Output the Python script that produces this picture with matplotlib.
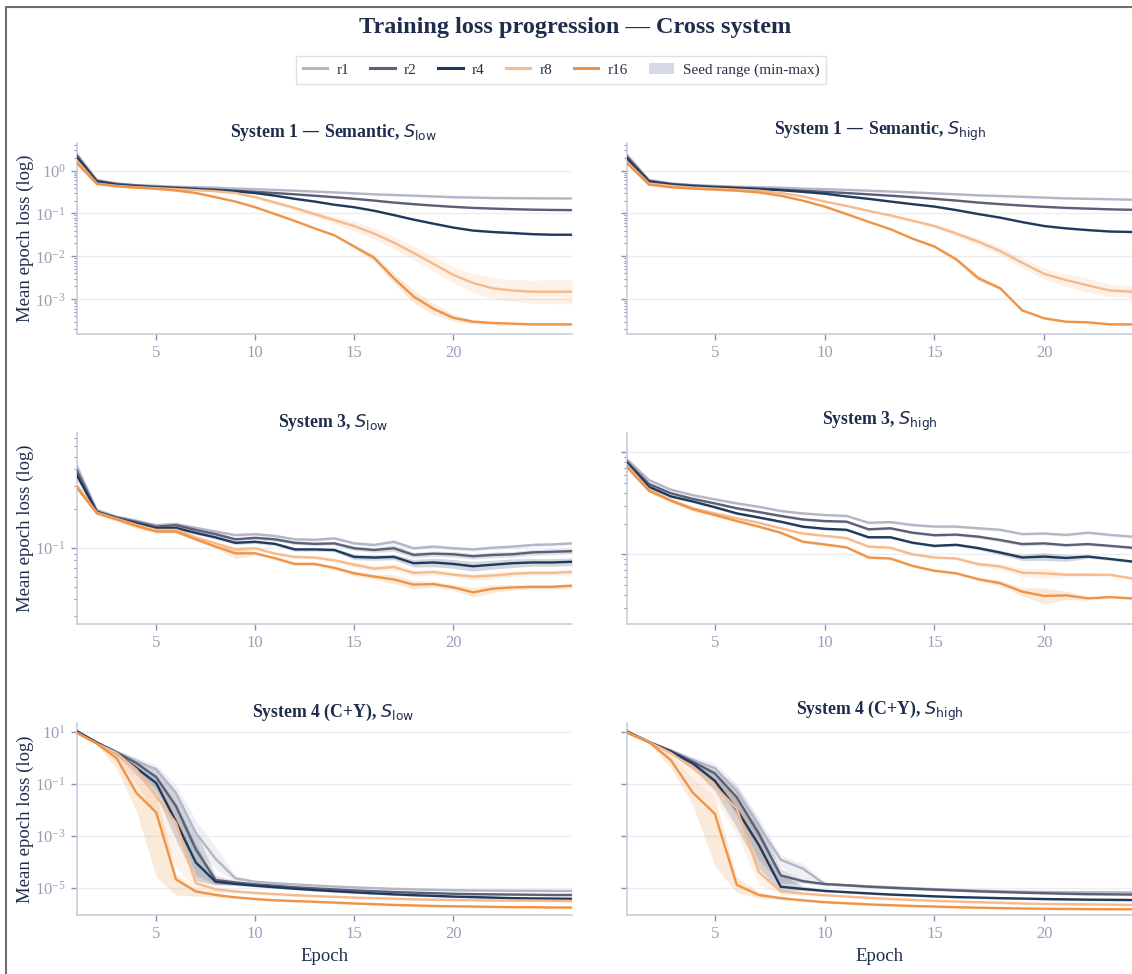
import numpy as np
import matplotlib
matplotlib.use("Agg")
import matplotlib.pyplot as plt
from matplotlib.lines import Line2D
from matplotlib.patches import Patch, Rectangle
from matplotlib.ticker import LogLocator, NullFormatter, NullLocator, FixedLocator, LogFormatterSciNotation

plt.rcParams['font.family'] = ['Liberation Serif', 'DejaVu Serif']
plt.rcParams['mathtext.fontset'] = 'dejavusans'

epochs_low = list(range(1, 27))
epochs_high = list(range(1, 25))
ranks = ["r1", "r2", "r4", "r8", "r16"]
colors = ["#b3b6c7", "#5b6079", "#1f3a5c", "#f6ba8c", "#ef9447"]

# ---- System 1, S_low (mean loss per epoch, band = x/÷ spread)
s1_low_r1 = [2.4, 0.60, 0.50, 0.46, 0.44, 0.42, 0.41, 0.40, 0.38, 0.37, 0.355, 0.34, 0.325, 0.31, 0.295, 0.28, 0.27, 0.26, 0.25, 0.24, 0.235, 0.23, 0.228, 0.226, 0.225, 0.224]
s1_low_r2 = [2.2, 0.58, 0.49, 0.45, 0.42, 0.40, 0.38, 0.36, 0.34, 0.32, 0.30, 0.28, 0.26, 0.24, 0.22, 0.20, 0.18, 0.165, 0.153, 0.143, 0.135, 0.13, 0.126, 0.123, 0.121, 0.12]
s1_low_r4 = [2.0, 0.55, 0.47, 0.43, 0.41, 0.39, 0.37, 0.35, 0.33, 0.30, 0.26, 0.22, 0.19, 0.16, 0.14, 0.116, 0.092, 0.072, 0.058, 0.047, 0.040, 0.037, 0.035, 0.033, 0.032, 0.032]
s1_low_r8 = [1.7, 0.50, 0.44, 0.41, 0.39, 0.37, 0.35, 0.33, 0.30, 0.24, 0.18, 0.134, 0.097, 0.07, 0.051, 0.034, 0.021, 0.012, 0.0067, 0.0037, 0.0024, 0.0018, 0.0016, 0.0015, 0.0015, 0.0015]
s1_low_r16 = [1.5, 0.49, 0.43, 0.40, 0.377, 0.344, 0.30, 0.24, 0.19, 0.14, 0.097, 0.067, 0.045, 0.031, 0.017, 0.0093, 0.0031, 0.00116, 0.0006, 0.00037, 0.0003, 0.00028, 0.00027, 0.00026, 0.00026, 0.00026]
s1_low_r1_sp = [1.15, 1.05, 1.04, 1.04, 1.04, 1.04, 1.04, 1.04, 1.04, 1.04, 1.04, 1.04, 1.04, 1.04, 1.04, 1.04, 1.04, 1.04, 1.04, 1.04, 1.04, 1.04, 1.04, 1.04, 1.04, 1.04]
s1_low_r2_sp = [1.15, 1.05, 1.04, 1.04, 1.04, 1.04, 1.04, 1.04, 1.04, 1.04, 1.04, 1.04, 1.04, 1.04, 1.04, 1.04, 1.04, 1.04, 1.04, 1.04, 1.04, 1.04, 1.04, 1.04, 1.04, 1.04]
s1_low_r4_sp = [1.12, 1.05, 1.04, 1.04, 1.04, 1.04, 1.04, 1.04, 1.04, 1.04, 1.04, 1.04, 1.04, 1.04, 1.04, 1.04, 1.05, 1.05, 1.05, 1.05, 1.05, 1.05, 1.05, 1.05, 1.05, 1.05]
s1_low_r8_sp = [1.1, 1.05, 1.04, 1.04, 1.04, 1.04, 1.04, 1.05, 1.06, 1.08, 1.1, 1.12, 1.15, 1.2, 1.3, 1.35, 1.4, 1.45, 1.5, 1.55, 1.65, 1.75, 1.8, 1.85, 1.9, 1.9]
s1_low_r16_sp = [1.1, 1.05, 1.04, 1.04, 1.04, 1.04, 1.04, 1.04, 1.04, 1.05, 1.05, 1.05, 1.05, 1.06, 1.1, 1.2, 1.3, 1.4, 1.35, 1.2, 1.12, 1.08, 1.07, 1.06, 1.06, 1.06]

# ---- System 1, S_high
s1_high_r1 = [2.3, 0.60, 0.50, 0.46, 0.44, 0.42, 0.41, 0.40, 0.38, 0.37, 0.355, 0.34, 0.325, 0.31, 0.295, 0.28, 0.265, 0.255, 0.245, 0.235, 0.225, 0.22, 0.215, 0.21]
s1_high_r2 = [2.1, 0.58, 0.49, 0.45, 0.42, 0.40, 0.38, 0.36, 0.34, 0.32, 0.30, 0.28, 0.26, 0.24, 0.22, 0.20, 0.18, 0.165, 0.153, 0.143, 0.135, 0.13, 0.125, 0.122]
s1_high_r4 = [1.9, 0.55, 0.47, 0.43, 0.41, 0.39, 0.37, 0.35, 0.32, 0.29, 0.25, 0.22, 0.19, 0.165, 0.145, 0.12, 0.097, 0.08, 0.063, 0.051, 0.045, 0.041, 0.038, 0.037]
s1_high_r8 = [1.6, 0.50, 0.44, 0.40, 0.38, 0.36, 0.34, 0.30, 0.25, 0.19, 0.15, 0.115, 0.09, 0.068, 0.051, 0.034, 0.022, 0.0133, 0.0071, 0.0039, 0.0028, 0.0021, 0.0016, 0.0015]
s1_high_r16 = [1.5, 0.47, 0.41, 0.38, 0.36, 0.34, 0.31, 0.26, 0.20, 0.145, 0.097, 0.064, 0.043, 0.026, 0.017, 0.0085, 0.0031, 0.0018, 0.00055, 0.00036, 0.0003, 0.00029, 0.00026, 0.00026]
s1_high_r1_sp = [1.15, 1.05, 1.04, 1.04, 1.04, 1.04, 1.04, 1.04, 1.04, 1.04, 1.04, 1.04, 1.04, 1.04, 1.04, 1.04, 1.04, 1.04, 1.04, 1.04, 1.04, 1.04, 1.04, 1.04]
s1_high_r2_sp = [1.15, 1.05, 1.04, 1.04, 1.04, 1.04, 1.04, 1.04, 1.04, 1.04, 1.04, 1.04, 1.04, 1.04, 1.04, 1.04, 1.04, 1.04, 1.04, 1.04, 1.04, 1.04, 1.04, 1.04]
s1_high_r4_sp = [1.12, 1.05, 1.04, 1.04, 1.04, 1.04, 1.04, 1.04, 1.04, 1.04, 1.04, 1.04, 1.04, 1.04, 1.04, 1.04, 1.04, 1.04, 1.04, 1.04, 1.04, 1.04, 1.04, 1.04]
s1_high_r8_sp = [1.1, 1.05, 1.04, 1.04, 1.04, 1.04, 1.04, 1.04, 1.04, 1.04, 1.04, 1.05, 1.08, 1.1, 1.12, 1.15, 1.2, 1.25, 1.3, 1.35, 1.4, 1.45, 1.4, 1.35]
s1_high_r16_sp = [1.1, 1.05, 1.04, 1.04, 1.04, 1.04, 1.04, 1.04, 1.04, 1.04, 1.04, 1.04, 1.04, 1.05, 1.08, 1.12, 1.15, 1.1, 1.05, 1.05, 1.05, 1.05, 1.05, 1.05]

# ---- System 3, S_low
s3_low_r1 = [0.42, 0.195, 0.173, 0.161, 0.149, 0.152, 0.142, 0.133, 0.125, 0.127, 0.123, 0.116, 0.115, 0.118, 0.108, 0.105, 0.111, 0.099, 0.102, 0.099, 0.097, 0.100, 0.102, 0.105, 0.106, 0.108]
s3_low_r2 = [0.39, 0.19, 0.171, 0.158, 0.145, 0.149, 0.137, 0.127, 0.116, 0.119, 0.116, 0.109, 0.107, 0.108, 0.099, 0.096, 0.099, 0.088, 0.090, 0.089, 0.086, 0.088, 0.089, 0.092, 0.093, 0.094]
s3_low_r4 = [0.36, 0.188, 0.168, 0.154, 0.141, 0.142, 0.13, 0.12, 0.109, 0.111, 0.107, 0.097, 0.097, 0.096, 0.085, 0.084, 0.085, 0.076, 0.077, 0.075, 0.072, 0.074, 0.076, 0.077, 0.077, 0.078]
s3_low_r8 = [0.30, 0.186, 0.167, 0.15, 0.137, 0.137, 0.12, 0.108, 0.097, 0.099, 0.09, 0.085, 0.084, 0.08, 0.074, 0.069, 0.071, 0.064, 0.065, 0.062, 0.06, 0.061, 0.063, 0.064, 0.064, 0.065]
s3_low_r16 = [0.29, 0.184, 0.165, 0.147, 0.133, 0.133, 0.116, 0.102, 0.0905, 0.0905, 0.083, 0.075, 0.075, 0.07, 0.0635, 0.06, 0.057, 0.052, 0.0525, 0.0495, 0.0454, 0.0484, 0.0495, 0.050, 0.050, 0.051]
s3_low_r1_sp = [1.08, 1.03, 1.03, 1.03, 1.03, 1.03, 1.03, 1.03, 1.03, 1.03, 1.03, 1.03, 1.03, 1.03, 1.03, 1.03, 1.04, 1.03, 1.03, 1.03, 1.03, 1.03, 1.03, 1.03, 1.03, 1.03]
s3_low_r2_sp = [1.08, 1.03, 1.03, 1.03, 1.03, 1.03, 1.03, 1.03, 1.03, 1.03, 1.03, 1.03, 1.03, 1.03, 1.04, 1.04, 1.06, 1.05, 1.05, 1.05, 1.05, 1.05, 1.05, 1.05, 1.05, 1.05]
s3_low_r4_sp = [1.08, 1.03, 1.03, 1.03, 1.03, 1.03, 1.03, 1.03, 1.03, 1.03, 1.03, 1.03, 1.03, 1.03, 1.05, 1.05, 1.05, 1.07, 1.08, 1.08, 1.09, 1.08, 1.08, 1.07, 1.07, 1.07]
s3_low_r8_sp = [1.06, 1.03, 1.03, 1.05, 1.03, 1.03, 1.03, 1.03, 1.06, 1.03, 1.03, 1.03, 1.03, 1.03, 1.05, 1.05, 1.06, 1.05, 1.05, 1.05, 1.06, 1.06, 1.05, 1.05, 1.05, 1.05]
s3_low_r16_sp = [1.06, 1.03, 1.03, 1.05, 1.03, 1.03, 1.03, 1.03, 1.1, 1.03, 1.03, 1.03, 1.03, 1.03, 1.04, 1.05, 1.08, 1.08, 1.05, 1.05, 1.09, 1.07, 1.05, 1.04, 1.04, 1.04]

# ---- System 3, S_high
s3_high_r1 = [0.85, 0.535, 0.43, 0.38, 0.346, 0.316, 0.293, 0.266, 0.252, 0.243, 0.238, 0.204, 0.207, 0.194, 0.187, 0.187, 0.18, 0.174, 0.158, 0.16, 0.155, 0.163, 0.155, 0.149]
s3_high_r2 = [0.81, 0.49, 0.397, 0.35, 0.316, 0.283, 0.26, 0.238, 0.22, 0.212, 0.209, 0.176, 0.18, 0.163, 0.154, 0.156, 0.149, 0.138, 0.126, 0.128, 0.123, 0.126, 0.121, 0.116]
s3_high_r4 = [0.79, 0.46, 0.37, 0.33, 0.29, 0.252, 0.23, 0.209, 0.187, 0.178, 0.174, 0.147, 0.147, 0.13, 0.121, 0.124, 0.115, 0.104, 0.093, 0.095, 0.092, 0.095, 0.09, 0.085]
s3_high_r8 = [0.75, 0.43, 0.34, 0.283, 0.252, 0.226, 0.204, 0.18, 0.16, 0.152, 0.144, 0.119, 0.116, 0.1, 0.093, 0.091, 0.08, 0.076, 0.066, 0.065, 0.063, 0.063, 0.063, 0.058]
s3_high_r16 = [0.72, 0.42, 0.336, 0.277, 0.243, 0.212, 0.187, 0.163, 0.133, 0.125, 0.117, 0.093, 0.091, 0.077, 0.069, 0.065, 0.057, 0.052, 0.043, 0.039, 0.0395, 0.037, 0.038, 0.037]
s3_high_r1_sp = [1.06, 1.04, 1.03, 1.03, 1.03, 1.03, 1.03, 1.03, 1.03, 1.03, 1.03, 1.03, 1.03, 1.03, 1.03, 1.03, 1.03, 1.03, 1.03, 1.03, 1.03, 1.03, 1.03, 1.03]
s3_high_r2_sp = [1.06, 1.04, 1.03, 1.03, 1.03, 1.03, 1.03, 1.03, 1.03, 1.03, 1.03, 1.03, 1.03, 1.03, 1.03, 1.03, 1.03, 1.04, 1.04, 1.04, 1.03, 1.03, 1.03, 1.03]
s3_high_r4_sp = [1.06, 1.04, 1.03, 1.03, 1.03, 1.03, 1.03, 1.03, 1.03, 1.03, 1.03, 1.03, 1.03, 1.03, 1.03, 1.03, 1.04, 1.05, 1.07, 1.09, 1.08, 1.04, 1.03, 1.03]
s3_high_r8_sp = [1.06, 1.04, 1.03, 1.04, 1.03, 1.03, 1.03, 1.03, 1.03, 1.03, 1.03, 1.03, 1.03, 1.03, 1.03, 1.03, 1.05, 1.06, 1.1, 1.12, 1.06, 1.04, 1.03, 1.03]
s3_high_r16_sp = [1.06, 1.04, 1.04, 1.05, 1.04, 1.03, 1.03, 1.03, 1.03, 1.03, 1.03, 1.03, 1.03, 1.03, 1.03, 1.03, 1.04, 1.06, 1.1, 1.2, 1.1, 1.04, 1.03, 1.03]

# ---- System 4 (C+Y), S_low (band: lower = mean/dn, upper = mean*up)
s4_low_r1 = [10.9, 3.8, 1.7, 0.71, 0.36, 0.044, 0.0013, 1.3e-4, 2.3e-5, 1.7e-5, 1.5e-5, 1.35e-5, 1.22e-5, 1.12e-5, 1.04e-5, 9.7e-6, 9.1e-6, 8.7e-6, 8.4e-6, 8.1e-6, 7.9e-6, 7.8e-6, 7.7e-6, 7.7e-6, 7.6e-6, 7.6e-6]
s4_low_r2 = [10.2, 3.8, 1.6, 0.62, 0.18, 0.0137, 3e-4, 2e-5, 1.6e-5, 1.35e-5, 1.2e-5, 1.05e-5, 9.5e-6, 8.7e-6, 8.0e-6, 7.4e-6, 6.9e-6, 6.5e-6, 6.2e-6, 5.9e-6, 5.7e-6, 5.6e-6, 5.5e-6, 5.4e-6, 5.3e-6, 5.3e-6]
s4_low_r4 = [10.0, 3.8, 1.5, 0.4, 0.106, 0.0035, 9.4e-5, 1.7e-5, 1.4e-5, 1.2e-5, 1.05e-5, 9.2e-6, 8.2e-6, 7.4e-6, 6.7e-6, 6.1e-6, 5.6e-6, 5.2e-6, 4.9e-6, 4.6e-6, 4.4e-6, 4.2e-6, 4.0e-6, 3.9e-6, 3.85e-6, 3.8e-6]
s4_low_r8 = [9.0, 3.5, 1.5, 0.35, 0.033, 0.0031, 1.5e-5, 8.7e-6, 7.2e-6, 6.3e-6, 5.7e-6, 5.2e-6, 4.8e-6, 4.5e-6, 4.2e-6, 4.0e-6, 3.8e-6, 3.6e-6, 3.5e-6, 3.4e-6, 3.3e-6, 3.25e-6, 3.2e-6, 3.2e-6, 3.15e-6, 3.1e-6]
s4_low_r16 = [9.0, 3.5, 0.96, 0.044, 0.0079, 2.1e-5, 7.2e-6, 5.3e-6, 4.3e-6, 3.7e-6, 3.3e-6, 3.1e-6, 2.9e-6, 2.7e-6, 2.5e-6, 2.35e-6, 2.2e-6, 2.1e-6, 2.0e-6, 1.95e-6, 1.9e-6, 1.85e-6, 1.8e-6, 1.8e-6, 1.75e-6, 1.75e-6]
s4_low_r1_dn = [1.1, 1.1, 1.15, 1.5, 2.0, 3.0, 5.0, 2.5, 1.3, 1.15, 1.1, 1.1, 1.1, 1.1, 1.1, 1.1, 1.1, 1.1, 1.1, 1.1, 1.1, 1.1, 1.1, 1.1, 1.1, 1.1]
s4_low_r1_up = [1.15, 1.1, 1.15, 1.4, 1.5, 2.0, 3.0, 3.0, 1.3, 1.15, 1.1, 1.1, 1.1, 1.1, 1.1, 1.1, 1.1, 1.1, 1.1, 1.1, 1.1, 1.1, 1.1, 1.1, 1.1, 1.1]
s4_low_r2_dn = [1.1, 1.1, 1.2, 2.0, 3.0, 5.0, 10.0, 1.5, 1.2, 1.1, 1.1, 1.1, 1.1, 1.1, 1.1, 1.1, 1.1, 1.1, 1.1, 1.1, 1.1, 1.1, 1.1, 1.1, 1.1, 1.1]
s4_low_r2_up = [1.1, 1.1, 1.2, 1.5, 2.0, 3.0, 5.0, 1.5, 1.2, 1.1, 1.1, 1.1, 1.1, 1.1, 1.1, 1.1, 1.1, 1.1, 1.1, 1.1, 1.1, 1.1, 1.1, 1.1, 1.1, 1.1]
s4_low_r4_dn = [1.1, 1.1, 1.2, 2.0, 3.0, 5.0, 5.0, 1.3, 1.15, 1.1, 1.1, 1.1, 1.1, 1.1, 1.1, 1.1, 1.1, 1.1, 1.1, 1.1, 1.1, 1.1, 1.1, 1.1, 1.1, 1.1]
s4_low_r4_up = [1.1, 1.1, 1.2, 1.5, 2.0, 5.0, 5.0, 1.3, 1.15, 1.1, 1.1, 1.1, 1.1, 1.1, 1.1, 1.1, 1.1, 1.1, 1.1, 1.1, 1.1, 1.1, 1.1, 1.1, 1.1, 1.1]
s4_low_r8_dn = [1.1, 1.1, 2.0, 3.0, 8.0, 50.0, 1.8, 1.3, 1.15, 1.1, 1.1, 1.1, 1.1, 1.1, 1.1, 1.1, 1.1, 1.1, 1.1, 1.1, 1.1, 1.1, 1.1, 1.1, 1.1, 1.1]
s4_low_r8_up = [1.1, 1.1, 1.3, 1.8, 3.0, 5.0, 3.0, 1.3, 1.15, 1.1, 1.1, 1.1, 1.1, 1.1, 1.1, 1.1, 1.1, 1.1, 1.1, 1.1, 1.1, 1.1, 1.1, 1.1, 1.1, 1.1]
s4_low_r16_dn = [1.1, 1.1, 2.5, 5.0, 300.0, 4.0, 1.5, 1.2, 1.1, 1.1, 1.1, 1.1, 1.1, 1.1, 1.1, 1.1, 1.1, 1.1, 1.1, 1.1, 1.1, 1.1, 1.1, 1.1, 1.1, 1.1]
s4_low_r16_up = [1.1, 1.1, 1.5, 4.0, 5.0, 1.6, 1.3, 1.2, 1.1, 1.1, 1.1, 1.1, 1.1, 1.1, 1.1, 1.1, 1.1, 1.1, 1.1, 1.1, 1.1, 1.1, 1.1, 1.1, 1.1, 1.1]

# ---- System 4 (C+Y), S_high
s4_high_r1 = [10.5, 4.0, 1.9, 0.8, 0.4, 0.05, 0.0025, 1.2e-4, 5.5e-5, 1.4e-5, 1.25e-5, 1.15e-5, 1.05e-5, 9.6e-6, 8.9e-6, 8.3e-6, 7.8e-6, 7.4e-6, 7.1e-6, 6.9e-6, 6.8e-6, 6.7e-6, 6.7e-6, 6.6e-6]
s4_high_r2 = [10.0, 4.0, 1.8, 0.7, 0.25, 0.03, 0.0012, 3e-5, 1.8e-5, 1.4e-5, 1.25e-5, 1.1e-5, 1.0e-5, 9.2e-6, 8.5e-6, 7.9e-6, 7.3e-6, 6.9e-6, 6.5e-6, 6.2e-6, 5.9e-6, 5.7e-6, 5.6e-6, 5.5e-6]
s4_high_r4 = [10.0, 4.0, 1.7, 0.6, 0.13, 0.01, 4.5e-4, 1.1e-5, 9e-6, 7.6e-6, 6.8e-6, 6.1e-6, 5.5e-6, 5.1e-6, 4.7e-6, 4.4e-6, 4.2e-6, 4.0e-6, 3.85e-6, 3.7e-6, 3.6e-6, 3.5e-6, 3.45e-6, 3.4e-6]
s4_high_r8 = [9.5, 4.0, 1.5, 0.4, 0.08, 0.011, 4e-5, 7.3e-6, 6e-6, 5.2e-6, 4.6e-6, 4.1e-6, 3.7e-6, 3.4e-6, 3.15e-6, 2.95e-6, 2.8e-6, 2.65e-6, 2.5e-6, 2.4e-6, 2.35e-6, 2.3e-6, 2.25e-6, 2.2e-6]
s4_high_r16 = [9.0, 4.0, 0.8, 0.045, 0.007, 1.3e-5, 5.3e-6, 4.0e-6, 3.3e-6, 2.8e-6, 2.55e-6, 2.3e-6, 2.15e-6, 2.0e-6, 1.9e-6, 1.8e-6, 1.72e-6, 1.66e-6, 1.6e-6, 1.57e-6, 1.54e-6, 1.52e-6, 1.5e-6, 1.5e-6]
s4_high_r1_dn = [1.1, 1.1, 1.15, 1.3, 2.0, 5.0, 3.0, 1.8, 3.0, 1.2, 1.1, 1.1, 1.1, 1.1, 1.1, 1.1, 1.1, 1.1, 1.1, 1.1, 1.1, 1.1, 1.1, 1.1]
s4_high_r1_up = [1.1, 1.1, 1.15, 1.3, 1.5, 2.0, 2.0, 1.5, 1.6, 1.2, 1.1, 1.1, 1.1, 1.1, 1.1, 1.1, 1.1, 1.1, 1.1, 1.1, 1.1, 1.1, 1.1, 1.1]
s4_high_r2_dn = [1.1, 1.1, 1.2, 1.5, 2.5, 5.0, 10.0, 2.0, 1.2, 1.1, 1.1, 1.1, 1.1, 1.1, 1.1, 1.1, 1.1, 1.1, 1.1, 1.1, 1.1, 1.1, 1.1, 1.1]
s4_high_r2_up = [1.1, 1.1, 1.2, 1.4, 1.6, 2.5, 3.0, 1.8, 1.2, 1.1, 1.1, 1.1, 1.1, 1.1, 1.1, 1.1, 1.1, 1.1, 1.1, 1.1, 1.1, 1.1, 1.1, 1.1]
s4_high_r4_dn = [1.1, 1.1, 1.2, 1.5, 2.5, 5.0, 8.0, 1.5, 1.15, 1.1, 1.1, 1.1, 1.1, 1.1, 1.1, 1.1, 1.1, 1.1, 1.1, 1.1, 1.1, 1.1, 1.1, 1.1]
s4_high_r4_up = [1.1, 1.1, 1.2, 1.4, 2.0, 3.0, 4.0, 3.0, 1.3, 1.1, 1.1, 1.1, 1.1, 1.1, 1.1, 1.1, 1.1, 1.1, 1.1, 1.1, 1.1, 1.1, 1.1, 1.1]
s4_high_r8_dn = [1.1, 1.1, 1.3, 2.0, 3.0, 10.0, 3.0, 1.3, 1.15, 1.1, 1.1, 1.1, 1.1, 1.1, 1.1, 1.1, 1.1, 1.1, 1.1, 1.1, 1.1, 1.1, 1.1, 1.1]
s4_high_r8_up = [1.1, 1.1, 1.3, 1.6, 2.5, 3.0, 20.0, 1.5, 1.15, 1.1, 1.1, 1.1, 1.1, 1.1, 1.1, 1.1, 1.1, 1.1, 1.1, 1.1, 1.1, 1.1, 1.1, 1.1]
s4_high_r16_dn = [1.1, 1.1, 2.0, 3.0, 100.0, 2.0, 1.3, 1.15, 1.1, 1.1, 1.1, 1.1, 1.1, 1.1, 1.1, 1.1, 1.1, 1.1, 1.1, 1.1, 1.1, 1.1, 1.1, 1.1]
s4_high_r16_up = [1.1, 1.1, 1.5, 4.0, 4.0, 2.0, 1.3, 1.15, 1.1, 1.1, 1.1, 1.1, 1.1, 1.1, 1.1, 1.1, 1.1, 1.1, 1.1, 1.1, 1.1, 1.1, 1.1, 1.1]

titles = ["System 1 — Semantic, $S_{\\mathrm{low}}$", "System 1 — Semantic, $S_{\\mathrm{high}}$",
          "System 3, $S_{\\mathrm{low}}$", "System 3, $S_{\\mathrm{high}}$",
          "System 4 (C+Y), $S_{\\mathrm{low}}$", "System 4 (C+Y), $S_{\\mathrm{high}}$"]

means = [
    [s1_low_r1, s1_low_r2, s1_low_r4, s1_low_r8, s1_low_r16],
    [s1_high_r1, s1_high_r2, s1_high_r4, s1_high_r8, s1_high_r16],
    [s3_low_r1, s3_low_r2, s3_low_r4, s3_low_r8, s3_low_r16],
    [s3_high_r1, s3_high_r2, s3_high_r4, s3_high_r8, s3_high_r16],
    [s4_low_r1, s4_low_r2, s4_low_r4, s4_low_r8, s4_low_r16],
    [s4_high_r1, s4_high_r2, s4_high_r4, s4_high_r8, s4_high_r16],
]
downs = [
    [s1_low_r1_sp, s1_low_r2_sp, s1_low_r4_sp, s1_low_r8_sp, s1_low_r16_sp],
    [s1_high_r1_sp, s1_high_r2_sp, s1_high_r4_sp, s1_high_r8_sp, s1_high_r16_sp],
    [s3_low_r1_sp, s3_low_r2_sp, s3_low_r4_sp, s3_low_r8_sp, s3_low_r16_sp],
    [s3_high_r1_sp, s3_high_r2_sp, s3_high_r4_sp, s3_high_r8_sp, s3_high_r16_sp],
    [s4_low_r1_dn, s4_low_r2_dn, s4_low_r4_dn, s4_low_r8_dn, s4_low_r16_dn],
    [s4_high_r1_dn, s4_high_r2_dn, s4_high_r4_dn, s4_high_r8_dn, s4_high_r16_dn],
]
ups = downs[:4] + [
    [s4_low_r1_up, s4_low_r2_up, s4_low_r4_up, s4_low_r8_up, s4_low_r16_up],
    [s4_high_r1_up, s4_high_r2_up, s4_high_r4_up, s4_high_r8_up, s4_high_r16_up],
]
ylims = [(1.55e-4, 4.4), (1.55e-4, 4.4), (0.0259, 0.762), (0.0207, 1.55), (9e-7, 21.5), (9e-7, 21.5)]

W, H = 1132, 974
fig = plt.figure(figsize=(W / 100, H / 100), dpi=100)

navy = "#1f2d4d"
tick_col = "#9aa0b4"
spine_col = "#c8cede"

col_x = [(77, 572), (627, 1132)]
col_title_x = [333, 880]
col_epochs = [epochs_low, epochs_high]
row_y = [(143, 334), (433, 624), (723, 915)]

for i in range(6):
    r, c = divmod(i, 2)
    x0, x1 = col_x[c]
    yt, yb = row_y[r]
    ep = col_epochs[c]
    ax = fig.add_axes([x0 / W, 1 - yb / H, (x1 - x0) / W, (yb - yt) / H])
    ax.set_yscale("log")
    for k in range(5):
        m = np.array(means[i][k])
        lo = m / np.array(downs[i][k])
        hi = m * np.array(ups[i][k])
        ax.fill_between(ep, lo, hi, color=colors[k], alpha=0.2, lw=0, zorder=2)
    for k in range(5):
        ax.plot(ep, means[i][k], color=colors[k], lw=1.7, zorder=3)
    ax.set_xlim(ep[0], ep[-1])
    ax.set_ylim(*ylims[i])
    ax.set_xticks([5, 10, 15, 20])
    if r < 2:
        ax.yaxis.set_major_locator(LogLocator(base=10, numticks=30))
        ax.yaxis.set_minor_locator(LogLocator(base=10, subs=np.arange(2, 10), numticks=30))
    else:
        ax.yaxis.set_major_locator(FixedLocator([10, 0.1, 1e-3, 1e-5]))
        ax.yaxis.set_minor_locator(NullLocator())
    ax.yaxis.set_major_formatter(LogFormatterSciNotation())
    ax.yaxis.set_minor_formatter(NullFormatter())
    ax.yaxis.grid(True, which="major", color="#eceef3", lw=1)
    ax.set_axisbelow(True)
    for s in ["top", "right"]:
        ax.spines[s].set_visible(False)
    for s in ["left", "bottom"]:
        ax.spines[s].set_color(spine_col)
        ax.spines[s].set_linewidth(1.2)
    ax.tick_params(axis="both", which="major", length=4, width=1, color="#8a91a8",
                   labelcolor=tick_col, labelsize=12, pad=4)
    ax.tick_params(axis="y", which="minor", length=2.5, width=0.8, color="#8a91a8")
    if c == 1:
        ax.tick_params(labelleft=False)
    else:
        fig.text(25 / W, 1 - (yt + yb) / 2 / H, "Mean epoch loss (log)", rotation=90,
                 ha="center", va="center", fontsize=13.5, color=navy)
    if r == 2:
        ax.set_xlabel("Epoch", fontsize=13.5, color=navy, labelpad=4)
    ax.set_title(titles[i], fontsize=12.8, fontweight="bold", color=navy, pad=4)
    ax.title.set_x((col_title_x[c] - x0) / (x1 - x0))

fig.text(575 / W, 1 - 27 / H, "Training loss progression — Cross system", ha="center", va="center",
         fontsize=17.5, fontweight="bold", color=navy)

handles = [Line2D([0], [0], color=colors[k], lw=2.2) for k in range(5)]
handles.append(Patch(facecolor="#d6d9e3", edgecolor="none"))
leg = fig.legend(handles, ranks + ["Seed range (min-max)"], loc="center",
                 bbox_to_anchor=(561 / W, 1 - 70 / H), ncol=6, frameon=True, fancybox=False,
                 fontsize=11, handlelength=1.6, columnspacing=1.4, handletextpad=0.6,
                 borderpad=0.45, labelcolor="#2b3048")
leg.get_frame().set_edgecolor("#d5d9e2")
leg.get_frame().set_linewidth(1)

fig.add_artist(Rectangle((6 / W, -0.05), 1.2, 1.05 - 7 / H, transform=fig.transFigure,
                         fill=False, edgecolor="#6e6e6e", lw=1.5, clip_on=False))

fig.savefig("out.png", dpi=100)
